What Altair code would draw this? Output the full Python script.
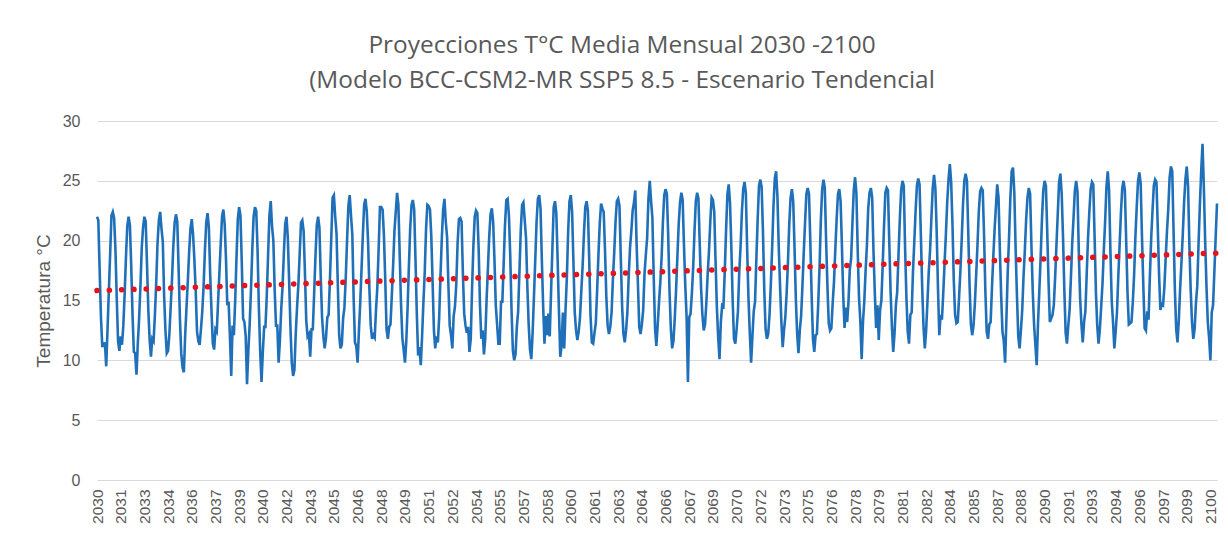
import altair as alt
import pandas as pd

# Monthly mean temperature (°C), Jan..Dec, one row per year
years = list(range(2030, 2101))

t_2030s = [
    [22.0, 21.7, 17.6, 13.6, 11.2, 11.2, 11.5, 9.5, 12.6, 15.8, 18.9, 22.1],
    [22.4, 21.9, 19.3, 15.2, 11.6, 10.8, 12.0, 11.3, 12.9, 15.5, 18.6, 21.2],
    [22.0, 21.3, 17.9, 13.8, 10.7, 10.6, 8.8, 11.4, 13.5, 16.2, 19.4, 21.1],
    [22.0, 21.6, 18.0, 14.2, 11.7, 10.3, 11.8, 11.6, 13.8, 16.5, 19.8, 21.7],
    [22.4, 21.0, 19.9, 15.4, 12.5, 10.6, 10.8, 12.2, 14.5, 16.8, 19.6, 21.5],
    [22.2, 21.6, 17.7, 13.5, 10.6, 9.4, 9.0, 12.1, 14.4, 16.6, 19.0, 21.0],
    [21.8, 20.5, 18.4, 15.8, 12.4, 11.6, 11.3, 12.6, 14.1, 16.2, 19.2, 21.5],
    [22.3, 21.1, 17.2, 14.1, 11.4, 10.9, 12.6, 12.4, 14.9, 17.3, 19.7, 22.0],
    [22.6, 21.4, 18.5, 14.6, 14.9, 12.0, 8.7, 12.9, 12.1, 15.0, 18.6, 21.8],
    [22.8, 22.1, 18.2, 13.5, 13.2, 12.0, 8.0, 10.8, 13.0, 15.9, 19.3, 22.0],
]
t_2040s = [
    [22.8, 22.5, 19.2, 14.4, 10.7, 8.2, 10.7, 12.8, 12.8, 15.4, 18.8, 22.1],
    [23.3, 21.2, 20.0, 15.9, 12.9, 12.9, 9.8, 11.7, 14.3, 16.2, 19.0, 21.4],
    [22.0, 20.2, 16.6, 12.7, 9.8, 8.7, 9.2, 12.2, 14.4, 16.3, 18.9, 21.5],
    [21.7, 20.8, 17.3, 13.3, 12.0, 12.2, 10.3, 12.6, 12.6, 15.6, 18.7, 21.3],
    [22.0, 21.1, 17.0, 13.6, 12.0, 11.0, 11.9, 13.6, 13.8, 16.8, 20.2, 23.6],
    [23.8, 22.0, 20.6, 16.2, 12.1, 11.0, 11.3, 13.5, 14.4, 16.9, 20.0, 22.9],
    [23.8, 22.1, 20.5, 15.2, 11.5, 11.2, 9.8, 12.4, 14.8, 17.6, 20.5, 23.0],
    [23.5, 22.4, 19.8, 15.9, 12.9, 11.8, 12.1, 11.9, 14.2, 16.1, 19.3, 22.8],
    [22.8, 22.6, 20.5, 16.8, 12.6, 11.8, 12.8, 13.0, 15.4, 17.9, 20.8, 22.4],
    [24.0, 23.0, 18.8, 14.7, 11.9, 10.9, 9.8, 11.6, 14.4, 17.9, 21.1, 23.0],
]
t_2050s = [
    [23.4, 22.6, 18.4, 13.9, 10.4, 11.1, 9.6, 12.0, 14.8, 17.3, 20.9, 23.0],
    [22.9, 22.6, 20.4, 16.5, 12.5, 11.0, 12.0, 11.5, 13.6, 17.1, 20.2, 22.6],
    [23.5, 21.6, 20.3, 16.3, 12.9, 12.1, 11.0, 13.7, 14.5, 16.4, 19.8, 21.8],
    [21.9, 21.6, 17.3, 13.9, 12.9, 12.3, 12.8, 10.7, 11.8, 16.1, 19.6, 22.0],
    [22.5, 22.3, 19.3, 14.6, 11.8, 12.5, 10.5, 11.8, 15.0, 17.6, 20.3, 22.2],
    [22.7, 21.6, 18.4, 14.6, 13.0, 11.4, 11.4, 14.9, 14.9, 18.1, 21.3, 23.4],
    [23.5, 22.1, 18.7, 14.1, 10.8, 10.0, 10.5, 12.8, 14.1, 17.5, 20.9, 23.0],
    [23.2, 21.7, 20.2, 16.1, 13.0, 10.9, 10.1, 12.3, 15.3, 18.4, 21.6, 23.5],
    [23.8, 22.7, 18.4, 14.5, 11.4, 13.7, 12.1, 13.9, 12.0, 15.7, 19.3, 22.8],
    [23.3, 22.3, 18.4, 14.1, 10.3, 11.2, 14.0, 11.0, 14.2, 16.9, 20.8, 23.3],
]
t_2060s = [
    [23.8, 22.4, 18.2, 14.0, 12.5, 11.7, 12.4, 13.6, 15.8, 17.9, 20.6, 22.8],
    [23.3, 22.5, 18.4, 13.7, 11.5, 11.4, 12.3, 13.1, 15.8, 18.8, 21.4, 23.1],
    [22.7, 22.4, 19.2, 15.3, 12.9, 12.2, 12.8, 14.0, 16.8, 19.0, 21.6, 23.3],
    [23.5, 22.9, 18.5, 14.5, 12.2, 11.5, 12.5, 14.0, 17.0, 19.4, 20.8, 22.5],
    [23.2, 24.2, 19.7, 16.4, 12.8, 12.2, 13.0, 14.2, 17.2, 18.8, 20.2, 23.5],
    [25.0, 23.3, 21.9, 17.0, 12.7, 11.2, 12.9, 14.8, 16.5, 18.6, 21.6, 23.8],
    [24.3, 23.9, 20.5, 15.8, 12.7, 11.0, 11.6, 13.5, 15.9, 18.7, 21.4, 23.2],
    [24.0, 23.4, 19.6, 16.2, 13.6, 8.2, 13.6, 13.9, 15.6, 17.8, 20.8, 23.3],
    [24.0, 23.5, 19.6, 16.0, 13.8, 12.5, 13.0, 14.8, 17.2, 19.1, 21.6, 23.6],
    [23.4, 22.4, 18.3, 14.4, 11.9, 10.1, 13.2, 14.6, 14.5, 17.5, 20.9, 23.9],
]
t_2070s = [
    [24.7, 23.1, 19.4, 15.0, 11.8, 11.4, 12.6, 14.1, 17.4, 19.5, 22.4, 24.3],
    [24.9, 24.0, 19.3, 15.2, 12.3, 9.8, 12.0, 14.1, 14.9, 18.5, 21.8, 24.6],
    [25.1, 24.5, 20.8, 15.9, 12.6, 11.8, 12.2, 13.8, 16.4, 19.4, 22.9, 25.2],
    [25.8, 23.7, 19.5, 16.2, 13.2, 11.1, 12.5, 13.6, 15.6, 18.2, 21.4, 23.6],
    [24.3, 23.3, 19.4, 15.1, 12.2, 10.6, 12.5, 13.7, 16.2, 19.0, 21.5, 23.9],
    [24.4, 23.9, 19.9, 15.4, 11.8, 10.7, 12.1, 12.2, 14.7, 17.8, 21.7, 24.3],
    [25.1, 24.4, 20.0, 16.2, 13.1, 12.5, 12.7, 14.8, 16.6, 19.3, 21.8, 23.9],
    [24.3, 23.3, 19.6, 15.4, 12.7, 14.4, 13.2, 14.9, 17.6, 18.5, 21.5, 24.2],
    [25.3, 24.0, 19.2, 15.2, 13.3, 10.1, 13.2, 14.9, 17.5, 19.6, 22.7, 24.0],
    [24.4, 23.6, 19.1, 15.6, 12.7, 14.6, 11.7, 14.2, 15.0, 18.0, 21.2, 24.0],
]
t_2080s = [
    [24.4, 24.2, 19.8, 15.7, 12.8, 10.7, 12.3, 14.6, 15.7, 18.8, 21.8, 24.2],
    [25.0, 24.6, 19.4, 15.3, 12.4, 11.4, 13.8, 14.0, 17.4, 19.9, 22.5, 24.6],
    [25.2, 24.7, 20.4, 16.1, 12.8, 11.0, 12.5, 14.9, 17.4, 19.2, 21.9, 24.4],
    [25.5, 24.4, 20.8, 16.0, 12.1, 13.8, 13.4, 15.6, 18.1, 20.5, 23.2, 25.1],
    [26.4, 24.9, 21.4, 16.7, 13.8, 13.1, 13.2, 15.2, 17.4, 20.0, 23.0, 25.0],
    [25.6, 25.0, 20.7, 16.3, 13.0, 12.1, 12.9, 14.7, 17.1, 19.6, 22.4, 24.1],
    [24.4, 24.2, 20.5, 15.8, 12.4, 11.8, 13.0, 13.2, 16.0, 18.6, 20.9, 22.8],
    [24.7, 23.6, 19.3, 15.4, 12.4, 11.6, 9.8, 13.5, 17.4, 20.3, 23.6, 25.8],
    [26.1, 24.0, 19.3, 15.4, 12.0, 11.0, 12.5, 14.2, 17.0, 19.2, 21.8, 23.6],
    [24.4, 23.9, 19.6, 15.8, 13.0, 11.3, 9.6, 13.1, 15.8, 18.6, 21.8, 24.2],
]
t_2090s = [
    [25.0, 24.6, 20.8, 16.6, 13.2, 13.5, 13.8, 14.6, 16.9, 19.6, 22.2, 24.9],
    [25.6, 23.9, 20.3, 15.9, 12.3, 11.4, 12.9, 14.2, 16.9, 19.8, 21.9, 24.2],
    [25.0, 24.1, 19.0, 15.2, 13.0, 11.5, 13.2, 14.1, 17.2, 20.2, 22.4, 24.3],
    [24.9, 24.7, 20.3, 15.7, 12.9, 11.4, 12.6, 14.5, 16.4, 19.2, 21.6, 24.5],
    [25.8, 24.2, 19.2, 15.0, 13.2, 11.0, 12.4, 14.0, 17.0, 19.6, 22.3, 24.4],
    [25.0, 24.2, 20.0, 15.7, 13.0, 13.1, 13.2, 14.8, 17.1, 20.3, 22.8, 25.0],
    [25.7, 24.8, 20.3, 16.3, 12.7, 12.5, 14.1, 13.4, 17.0, 20.2, 22.5, 24.6],
    [25.1, 24.9, 21.1, 17.1, 14.2, 14.7, 14.6, 16.1, 18.5, 20.8, 22.7, 25.3],
    [26.2, 25.8, 20.8, 15.9, 12.6, 11.5, 13.4, 16.0, 18.2, 20.5, 23.2, 25.1],
    [26.2, 24.6, 19.7, 15.9, 13.2, 11.8, 12.6, 14.8, 16.2, 19.8, 23.0, 25.8],
]
t_2100 = [
    [28.1, 24.5, 20.0, 16.2, 13.2, 11.9, 10.0, 14.0, 14.6, 17.4, 20.3, 23.1],
]

title_lines = [
    "Proyecciones T°C Media Mensual 2030 -2100",
    "(Modelo BCC-CSM2-MR SSP5 8.5 - Escenario Tendencial",
]
y_title = "Temperatura °C"
y_ticks = [0, 5, 10, 15, 20, 25, 30]

rows = t_2030s + t_2040s + t_2050s + t_2060s + t_2070s + t_2080s + t_2090s + t_2100
records = []
for i, (yr, vals) in enumerate(zip(years, rows)):
    for m, v in enumerate(vals):
        records.append({"idx": i * 12 + m, "year": yr, "month": m + 1, "temp": v})
df = pd.DataFrame(records)
n = len(df)
x_ticks = list(range(0, n, 18))

GRAY = "#595959"
LABEL_FONT = "Liberation Sans"

x_enc = alt.X(
    "idx:Q",
    scale=alt.Scale(domain=[0, n - 1], nice=False, zero=False),
    axis=alt.Axis(
        values=x_ticks,
        labelExpr="toString(2030 + floor(datum.value / 12))",
        labelAngle=270,
        labelOverlap=False,
        labelFlush=False,
        labelBound=False,
        labelFont=LABEL_FONT,
        labelFontSize=15.5,
        labelColor=GRAY,
        labelPadding=9,
        grid=False,
        ticks=False,
        domain=False,
        title=None,
    ),
)
y_enc = alt.Y(
    "temp:Q",
    scale=alt.Scale(domain=[0, 30], nice=False),
    axis=alt.Axis(
        values=y_ticks,
        labelFont=LABEL_FONT,
        labelFontSize=16,
        labelColor=GRAY,
        labelPadding=17,
        grid=True,
        gridColor="#d9d9d9",
        gridWidth=1,
        ticks=False,
        domain=False,
        title=y_title,
        titleFont=LABEL_FONT,
        titleFontSize=19,
        titleFontWeight="normal",
        titleColor=GRAY,
        titlePadding=9,
    ),
)

base = alt.Chart(df)
line = base.mark_line(color="#1f70b8", strokeWidth=2.6).encode(x=x_enc, y=y_enc)
trend = (
    base.transform_regression("idx", "temp", method="linear", extent=[0, n - 1])
    .mark_line(color="#e3141c", strokeWidth=5.5, strokeDash=[0.1, 12.2], strokeCap="round")
    .encode(x=x_enc, y=y_enc)
)

chart = (
    alt.layer(line, trend)
    .properties(
        width=1120,
        height=359,
        autosize="none",
        padding={"left": 89, "top": 113, "right": 3, "bottom": 50},
        title=alt.TitleParams(
            text=title_lines,
            font="Open Sans",
            fontSize=24.4,
            fontWeight="normal",
            color=GRAY,
            anchor="middle",
            dx=-35,
            offset=20,
            lineHeight=35,
        ),
    )
    .configure_view(stroke=None)
    .configure_axisX(labelOverlap=False)
)

chart.save("out.html", embed_options={"renderer": "svg", "actions": False})
